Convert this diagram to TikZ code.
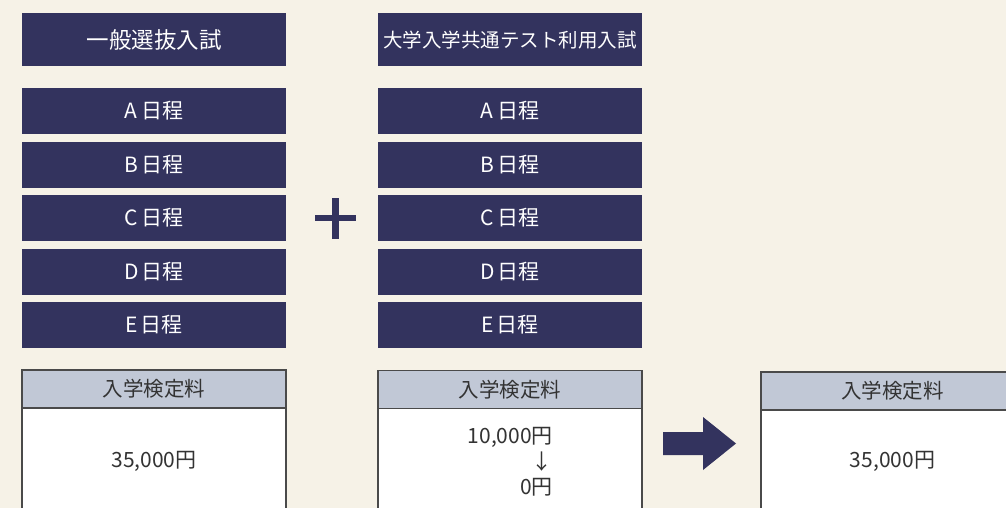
\documentclass[tikz,border=0pt]{standalone}
\usepackage{fontspec}
\setmainfont{Noto Sans CJK JP}
\usetikzlibrary{positioning,calc}
\definecolor{navy}{HTML}{33335E}
\definecolor{cream}{HTML}{F6F2E7}
\definecolor{feegray}{HTML}{C1C8D6}
\definecolor{darktext}{HTML}{333333}
\definecolor{edgegray}{HTML}{4A4A4A}

\begin{document}
\begin{tikzpicture}[x=1pt,y=-1pt,
  navybox/.style={fill=navy,text=white,minimum width=264pt,inner sep=0pt,
    font=\fontsize{21}{25}\selectfont},
  feehead/.style={fill=feegray,draw=edgegray,line width=1.2pt,text=darktext,
    minimum width=264pt,minimum height=38pt,inner sep=0pt,
    font=\fontsize{20.5}{24}\selectfont},
  feetext/.style={text=darktext,inner sep=0pt,font=\fontsize{21}{25}\selectfont}]
\useasboundingbox (0,0) rectangle (1006,508);
\clip (0,0) rectangle (1006,508);
\fill[cream] (0,0) rectangle (1006,508);
% left column
\node[navybox,minimum height=53pt,font=\fontsize{22.5}{27}\selectfont] (ippan) at (154,40) {一般選抜入試};
\node[navybox,minimum height=46pt] (ippanA) at (154,111) {A\,日程};
\node[navybox,minimum height=46pt] (ippanB) at (154,164.5) {B\,日程};
\node[navybox,minimum height=46pt] (ippanC) at (154,218) {C\,日程};
\node[navybox,minimum height=46pt] (ippanD) at (154,271.5) {D\,日程};
\node[navybox,minimum height=46pt] (ippanE) at (154,325) {E\,日程};
% right column
\node[navybox,minimum height=53pt,font=\fontsize{19.5}{23}\selectfont] (kyotsu) at (510,40) {大学入学共通テスト利用入試};
\node[navybox,minimum height=46pt] (kyotsuA) at (510,111) {A\,日程};
\node[navybox,minimum height=46pt] (kyotsuB) at (510,164.5) {B\,日程};
\node[navybox,minimum height=46pt] (kyotsuC) at (510,218) {C\,日程};
\node[navybox,minimum height=46pt] (kyotsuD) at (510,271.5) {D\,日程};
\node[navybox,minimum height=46pt] (kyotsuE) at (510,325) {E\,日程};
% plus
\draw[navy,line width=6.5pt] (315,218)--(356,218);
\draw[navy,line width=6.5pt] (335.5,198)--(335.5,238.5);
% fee boxes
\draw[edgegray,line width=1.2pt,fill=white] (22,389) rectangle (286,530);
\node[feehead] (feeL) at (154,389) {入学検定料};
\node[feetext] (feeLval) at (154,461) {35,000円};
\draw[edgegray,line width=1.2pt,fill=white] (378,389) rectangle (642,530);
\node[feehead] (feeR) at (510,389.5) {入学検定料};
\node[feetext,anchor=east] (feeRold) at (553,437) {10,000円};
\node[feetext] (feeRarrow) at (542,462) {↓};
\node[feetext,anchor=east] (feeRnew) at (553,487) {0円};
\draw[edgegray,line width=1.2pt,fill=white] (761,391) rectangle (1024,530);
\node[feehead,minimum width=263pt] (feeT) at (892.5,391) {入学検定料};
\node[feetext] (feeTval) at (892.5,461.5) {35,000円};
% arrow
\fill[navy] (663,432)--(703,432)--(703,417)--(736,443.5)--(703,470)--(703,455)--(663,455)--cycle;
\end{tikzpicture}
\end{document}
